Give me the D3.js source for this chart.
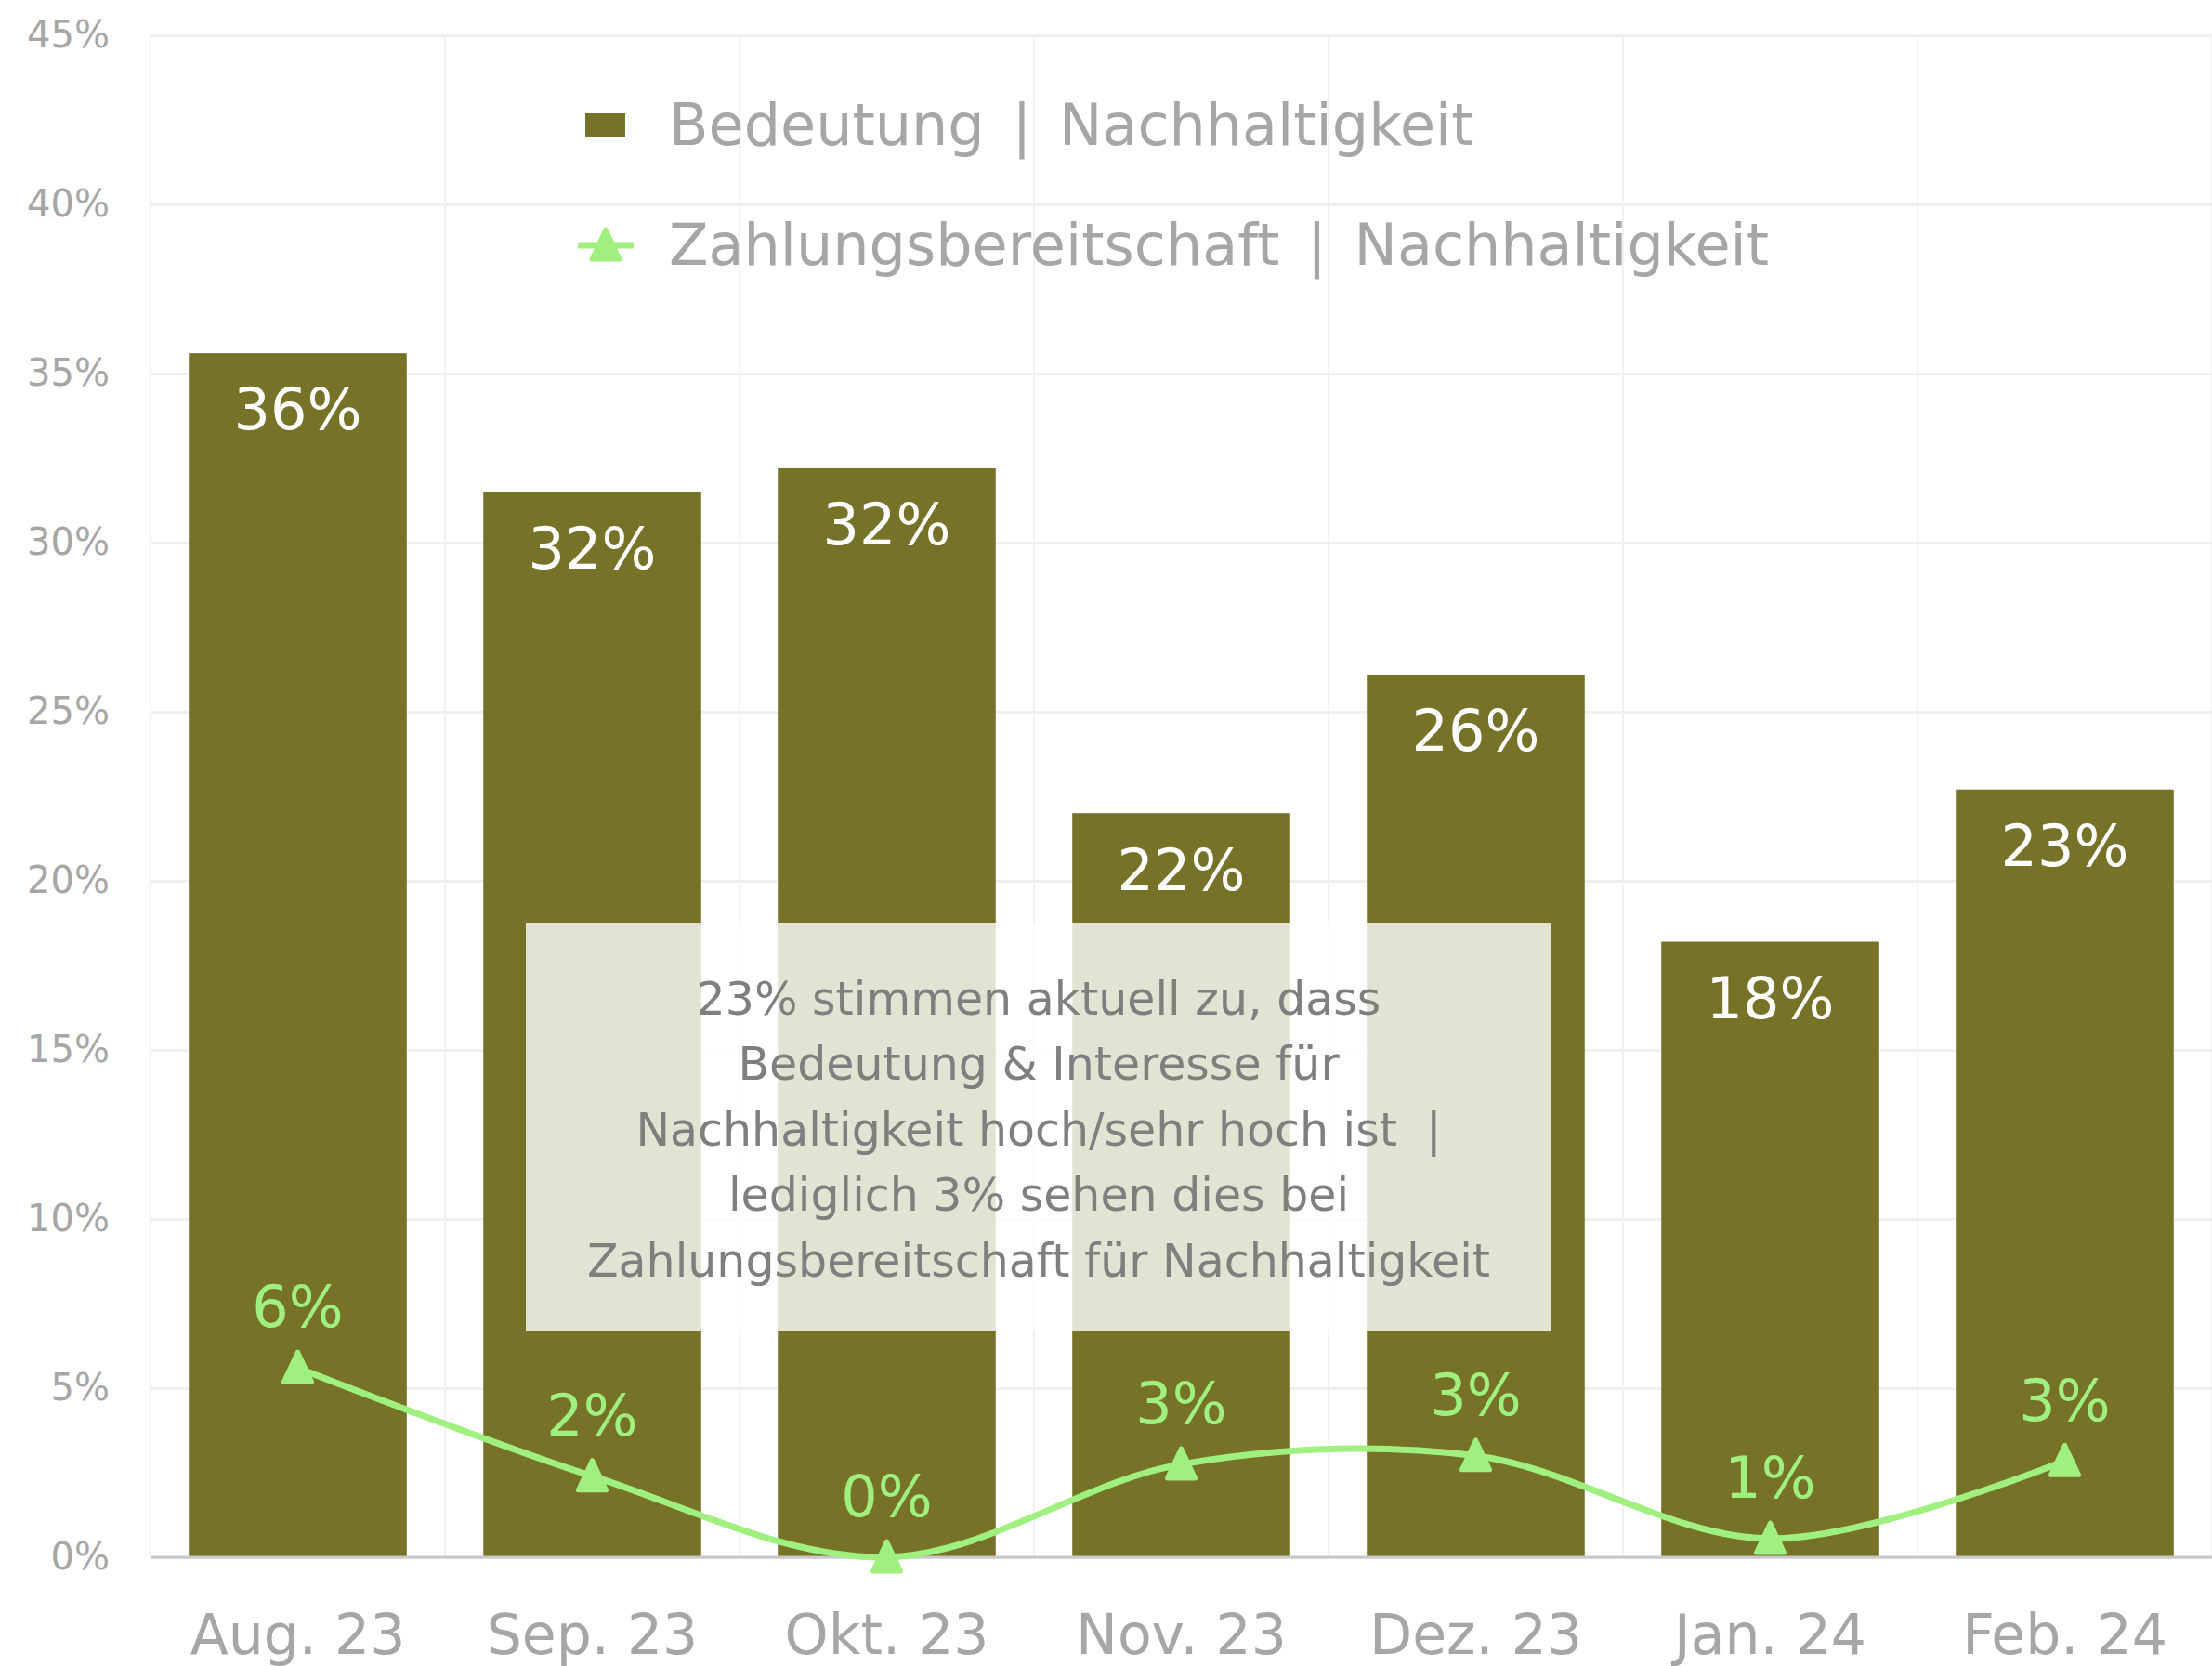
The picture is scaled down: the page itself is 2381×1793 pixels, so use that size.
<!DOCTYPE html>
<html>
<head>
<meta charset="utf-8">
<script src="https://cdn.jsdelivr.net/npm/d3@7"></script>
<style>
  body { margin: 0; background: #fff; }
  text { font-family: "Century Gothic", "DejaVu Sans", sans-serif; white-space: pre; }
</style>
</head>
<body>
<div id="chart"></div>
<script>
// data
var months = ["Aug. 23", "Sep. 23", "Okt. 23", "Nov. 23", "Dez. 23", "Jan. 24", "Feb. 24"];
var bedeutung = [35.6, 31.5, 32.2, 22.0, 26.1, 18.2, 22.7];
var zahlung = [5.6, 2.4, 0.0, 2.75, 3.0, 0.55, 2.85];
var yTicks = [0, 5, 10, 15, 20, 25, 30, 35, 40, 45];
var legendLabels = ["Bedeutung | Nachhaltigkeit", "Zahlungsbereitschaft | Nachhaltigkeit"];
var noteLines = [
  "23% stimmen aktuell zu, dass",
  "Bedeutung & Interesse für",
  "Nachhaltigkeit hoch/sehr hoch ist  |",
  "lediglich 3% sehen dies bei",
  "Zahlungsbereitschaft für Nachhaltigkeit"
];

var barColor = "#767328", lineColor = "#A0F080", axisGrey = "#A6A6A6";

var W = 2381, H = 1793;
var margin = { top: 38, right: 0, bottom: 117, left: 162 },
  width = W - margin.left - margin.right,
  height = H - margin.top - margin.bottom;

var svg = d3.select("#chart")
  .append("svg")
  .attr("width", W)
  .attr("height", H)
  .append("g")
  .attr("transform", "translate(" + margin.left + "," + margin.top + ")");

var x = d3.scaleBand()
  .domain(months)
  .range([0, width])
  .paddingInner(0.26)
  .paddingOuter(0.13);

var y = d3.scaleLinear()
  .domain([0, 45])
  .range([height, 0]);

// horizontal gridlines
svg.append("g")
  .call(d3.axisLeft(y).tickValues(yTicks).tickSize(-width).tickFormat(""))
  .call(function (g) { g.select(".domain").remove(); })
  .selectAll("line")
  .attr("stroke", "#EFEFEF")
  .attr("stroke-width", 3);

// vertical gridlines at category boundaries
var step = x.step();
svg.selectAll("vgrid")
  .data(months.concat(["end"]))
  .enter()
  .append("line")
  .attr("x1", function (d, i) { return i * step; })
  .attr("x2", function (d, i) { return i * step; })
  .attr("y1", 0)
  .attr("y2", height)
  .attr("stroke", "#F1F1F1")
  .attr("stroke-width", 2);

// y axis labels
svg.append("g")
  .call(d3.axisLeft(y).tickValues(yTicks).tickSize(0).tickPadding(44)
    .tickFormat(function (d) { return d + "%"; }))
  .call(function (g) { g.select(".domain").remove(); })
  .selectAll("text")
  .attr("fill", axisGrey)
  .style("font-size", "40px");

// bars
svg.selectAll("mybar")
  .data(bedeutung)
  .enter()
  .append("rect")
  .attr("x", function (d, i) { return x(months[i]); })
  .attr("y", function (d) { return y(d); })
  .attr("width", x.bandwidth())
  .attr("height", function (d) { return height - y(d); })
  .attr("fill", barColor);

// baseline
svg.append("line")
  .attr("x1", 0).attr("x2", width)
  .attr("y1", y(0)).attr("y2", y(0))
  .attr("stroke", "#C8C8C8")
  .attr("stroke-width", 3);

// x axis labels
svg.append("g")
  .attr("transform", "translate(0," + height + ")")
  .call(d3.axisBottom(x).tickSize(0).tickPadding(61))
  .call(function (g) { g.select(".domain").remove(); })
  .selectAll("text")
  .attr("fill", axisGrey)
  .style("font-size", "60px");

// bar labels
svg.selectAll("barlabel")
  .data(bedeutung)
  .enter()
  .append("text")
  .attr("x", function (d, i) { return x(months[i]) + x.bandwidth() / 2; })
  .attr("y", function (d) { return y(d) + 60; })
  .attr("dy", "0.36em")
  .attr("text-anchor", "middle")
  .attr("fill", "#fff")
  .style("font-size", "62px")
  .text(function (d) { return Math.round(d) + "%"; });

// annotation box (semi-transparent white over the bars)
var note = svg.append("g");
note.append("rect")
  .attr("x", 566 - margin.left)
  .attr("y", 993 - margin.top)
  .attr("width", 1104)
  .attr("height", 439)
  .attr("fill", "#fff")
  .attr("fill-opacity", 0.8);
note.selectAll("text")
  .data(noteLines)
  .enter()
  .append("text")
  .attr("x", 1118 - margin.left)
  .attr("y", function (d, i) { return 1074 - margin.top + i * 70.5; })
  .attr("dy", "0.36em")
  .attr("text-anchor", "middle")
  .attr("fill", "#7F7F7F")
  .style("font-size", "49px")
  .text(function (d) { return d; });

// smoothed line
var cx = function (i) { return x(months[i]) + x.bandwidth() / 2; };
var line = d3.line()
  .x(function (d, i) { return cx(i); })
  .y(function (d) { return y(d); })
  .curve(d3.curveCatmullRom.alpha(0));

svg.append("path")
  .datum(zahlung)
  .attr("d", line)
  .attr("fill", "none")
  .attr("stroke", lineColor)
  .attr("stroke-width", 7);

var tri = "M0,-17L15,15L-15,15Z";
svg.selectAll("marker")
  .data(zahlung)
  .enter()
  .append("path")
  .attr("d", tri)
  .attr("transform", function (d, i) { return "translate(" + cx(i) + "," + y(d) + ")"; })
  .attr("fill", lineColor)
  .attr("stroke", lineColor)
  .attr("stroke-width", 5)
  .attr("stroke-linejoin", "round");

svg.selectAll("linelabel")
  .data(zahlung)
  .enter()
  .append("text")
  .attr("x", function (d, i) { return cx(i); })
  .attr("y", function (d) { return y(d) - 66; })
  .attr("dy", "0.36em")
  .attr("text-anchor", "middle")
  .attr("fill", lineColor)
  .style("font-size", "62px")
  .text(function (d) { return Math.round(d) + "%"; });

// legend
var legend = svg.append("g").attr("transform", "translate(" + (-margin.left) + "," + (-margin.top) + ")");
legend.append("rect")
  .attr("x", 630).attr("y", 122)
  .attr("width", 43).attr("height", 25)
  .attr("fill", barColor);
legend.append("line")
  .attr("x1", 622).attr("x2", 682)
  .attr("y1", 264).attr("y2", 264)
  .attr("stroke", lineColor)
  .attr("stroke-width", 7);
legend.append("path")
  .attr("d", tri)
  .attr("transform", "translate(652,264)")
  .attr("fill", lineColor)
  .attr("stroke", lineColor)
  .attr("stroke-width", 5)
  .attr("stroke-linejoin", "round");
legend.selectAll("ltext")
  .data(legendLabels)
  .enter()
  .append("text")
  .attr("x", 720)
  .attr("y", function (d, i) { return i === 0 ? 134 : 263; })
  .attr("dy", "0.36em")
  .attr("fill", axisGrey)
  .style("font-size", "62px")
  .style("word-spacing", "10px")
  .text(function (d) { return d; });
</script>
</body>
</html>
